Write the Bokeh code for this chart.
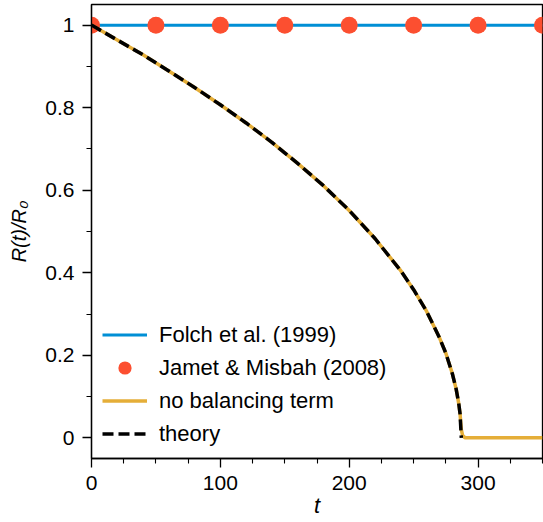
from bokeh.plotting import figure
from bokeh.models import Range1d, FixedTicker, Legend, LegendItem
from bokeh.embed import file_html
from bokeh.resources import INLINE

# ---------------- data ----------------
t_folch = [0, 50, 100, 150, 200, 250, 300, 350]
r_folch = [1, 1, 1, 1, 1, 1, 1, 1]

t_jamet = [0, 50, 100, 150, 200, 250, 300, 350]
r_jamet = [1, 1, 1, 1, 1, 1, 1, 1]

t_nobal = [0, 20, 40, 60, 80, 100, 120, 140, 160, 180, 200, 220, 240, 250,
           260, 270, 275, 280, 283, 285, 286, 287, 288, 290, 300, 320, 350]
r_nobal = [1.0, 0.964, 0.928, 0.889, 0.849, 0.807, 0.763, 0.716, 0.665, 0.611,
           0.551, 0.483, 0.405, 0.359, 0.307, 0.243, 0.205, 0.156, 0.118,
           0.083, 0.059, 0.02, 0.006, 0.0, 0.0, 0.0, 0.0]

t_theory = [0, 20, 40, 60, 80, 100, 120, 140, 160, 180, 200, 220, 240, 250,
            260, 270, 275, 280, 283, 285, 286, 287]
r_theory = [1.0, 0.964, 0.928, 0.889, 0.849, 0.807, 0.763, 0.716, 0.665, 0.611,
            0.551, 0.483, 0.405, 0.359, 0.307, 0.243, 0.205, 0.156, 0.118,
            0.083, 0.059, 0.0]

x_ticks = [0, 100, 200, 300]
x_minor = [25, 50, 75, 125, 150, 175, 225, 250, 275, 325, 350]
y_ticks = [0, 0.2, 0.4, 0.6, 0.8, 1]
y_tick_labels = ["0", "0.2", "0.4", "0.6", "0.8", "1"]
y_minor = [0.1, 0.3, 0.5, 0.7, 0.9]

labels = ["Folch et al. (1999)", "Jamet & Misbah (2008)", "no balancing term", "theory"]
colors = ["#008fd5", "#fc4f30", "#e5ae38", "black"]
x_label = "t"
y_label = "R(t)/R\u2080"

FONT = "Liberation Sans"

# ---------------- figure ----------------
p = figure(width=543, height=522, output_backend="svg", toolbar_location=None,
           x_range=Range1d(0, 350), y_range=Range1d(-0.05, 1.05),
           min_border_left=91, min_border_right=1, min_border_top=4,
           min_border_bottom=64)
p.background_fill_color = "white"
p.border_fill_color = "white"
p.xgrid.visible = False
p.ygrid.visible = False
p.outline_line_color = "black"
p.outline_line_width = 1.3

r1 = p.line(t_folch, r_folch, line_color=colors[0], line_width=3)
r2 = p.scatter(t_jamet, r_jamet, size=17, fill_color=colors[1], line_color=None)
r3 = p.line(t_nobal, r_nobal, line_color=colors[2], line_width=3.5)
r4 = p.line(t_theory, r_theory, line_color=colors[3], line_width=3.5, line_dash="11 5")

for ax in (p.xaxis[0], p.yaxis[0]):
    ax.axis_line_color = "black"
    ax.axis_line_width = 1.3
    ax.major_tick_line_color = "black"
    ax.minor_tick_line_color = "black"
    ax.major_tick_line_width = 1.3
    ax.minor_tick_line_width = 1.1
    ax.major_tick_in = 0
    ax.major_tick_out = 9
    ax.minor_tick_in = 0
    ax.minor_tick_out = 5
    ax.major_label_standoff = 8
    ax.major_label_text_font = FONT
    ax.major_label_text_font_size = "21px"
    ax.major_label_text_color = "black"
    ax.axis_label_text_font = FONT
    ax.axis_label_text_font_style = "italic"
    ax.axis_label_text_color = "black"

p.xaxis[0].ticker = FixedTicker(ticks=x_ticks, minor_ticks=x_minor)
p.yaxis[0].ticker = FixedTicker(ticks=y_ticks, minor_ticks=y_minor)
p.yaxis[0].major_label_overrides = {v: s for v, s in zip(y_ticks, y_tick_labels)}

p.xaxis[0].axis_label = x_label
p.xaxis[0].axis_label_text_font_size = "22px"
p.xaxis[0].axis_label_standoff = 0
p.yaxis[0].axis_label = y_label
p.yaxis[0].axis_label_text_font_size = "20px"
p.yaxis[0].axis_label_standoff = 12

legend = Legend(items=[LegendItem(label=labels[0], renderers=[r1]),
                       LegendItem(label=labels[1], renderers=[r2]),
                       LegendItem(label=labels[2], renderers=[r3]),
                       LegendItem(label=labels[3], renderers=[r4])],
                location=(11, 8), border_line_color=None, background_fill_alpha=0,
                padding=0, margin=0, spacing=0, glyph_width=45, glyph_height=33,
                label_height=33, label_standoff=12, label_text_font=FONT,
                label_text_font_size="22px", label_text_color="black")
p.add_layout(legend)

open("out.html", "w").write(file_html(p, INLINE))
